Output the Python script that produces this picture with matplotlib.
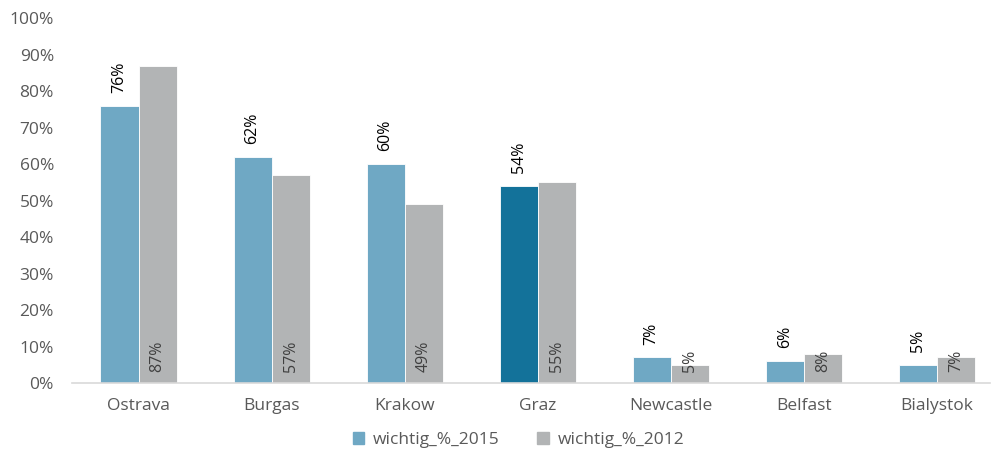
import numpy as np
import matplotlib
matplotlib.use('Agg')
import matplotlib.pyplot as plt
from matplotlib.patches import Patch

plt.rcParams['font.family'] = ['Open Sans', 'DejaVu Sans']

cities = ['Ostrava', 'Burgas', 'Krakow', 'Graz', 'Newcastle', 'Belfast', 'Bialystok']
w2015 = [76, 62, 60, 54, 7, 6, 5]
w2012 = [87, 57, 49, 55, 5, 8, 7]
yticks = [0, 10, 20, 30, 40, 50, 60, 70, 80, 90, 100]

blue = '#6FA8C4'
dark = '#13729A'
grey = '#B2B4B5'

fig = plt.figure(figsize=(9.93, 4.53), dpi=100)
ax = fig.add_axes([0.0725, 0.1545, 0.9245, 0.8055])

x = np.arange(len(cities))
bw = 0.286
cols = [dark if c == 'Graz' else blue for c in cities]
ax.bar(x - bw/2, w2015, bw, color=cols, edgecolor='white', linewidth=0.6)
ax.bar(x + bw/2, w2012, bw, color=grey, edgecolor='white', linewidth=0.6)

for i in range(len(cities)):
    ax.text(x[i] - bw/2, w2015[i] + 3.5, '%d%%' % w2015[i], rotation=90,
            ha='center', va='bottom', fontsize=11.5, color='black')
    ax.text(x[i] + bw/2, 3, '%d%%' % w2012[i], rotation=90,
            ha='center', va='bottom', fontsize=11.5, color='#404040')

ax.set_xlim(-0.5, 6.4)
ax.set_ylim(0, 100)
ax.set_yticks(yticks)
ax.set_yticklabels(['%d%%' % t for t in yticks])
ax.set_xticks(x)
ax.set_xticklabels(cities)
ax.tick_params(axis='both', length=0, labelsize=12.5, colors='#595959')
ax.tick_params(axis='x', pad=11)
ax.tick_params(axis='y', pad=13)
for s in ['top', 'right', 'left']:
    ax.spines[s].set_visible(False)
ax.spines['bottom'].set_color('#D9D9D9')
ax.spines['bottom'].set_linewidth(1.2)

handles = [Patch(color=blue, label='wichtig_%_2015'), Patch(color=grey, label='wichtig_%_2012')]
fig.legend(handles=handles, loc='center', bbox_to_anchor=(0.522, 0.028), ncol=2, frameon=False,
           fontsize=12.5, handlelength=0.65, handleheight=0.65, handletextpad=0.5, columnspacing=2.2,
           labelcolor='#595959')

fig.savefig('out.png', dpi=100)
